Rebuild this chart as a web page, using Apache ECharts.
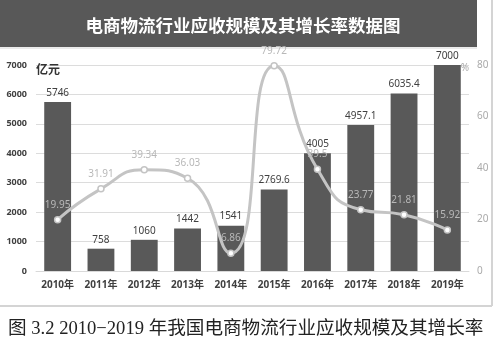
<!DOCTYPE html>
<html>
<head>
<meta charset="utf-8">
<script src="https://cdn.jsdelivr.net/npm/echarts@6/dist/echarts.min.js"></script>
<style>
  html, body { margin: 0; padding: 0; background: #ffffff; }
  #chart { width: 500px; height: 342px; }
</style>
</head>
<body>
<div id="chart"></div>
<script>
// 2010–2019 电商物流行业应收规模（亿元）及增长率（%）
var years = ['2010年', '2011年', '2012年', '2013年', '2014年', '2015年', '2016年', '2017年', '2018年', '2019年'];
var scale = [5746, 758, 1060, 1442, 1541, 2769.6, 4005, 4957.1, 6035.4, 7000];
var growth = [19.95, 31.91, 39.34, 36.03, 6.86, 79.72, 39.5, 23.77, 21.81, 15.92];

var titleText = '电商物流行业应收规模及其增长率数据图';
var captionText = '图 3.2 2010\u22122019 年我国电商物流行业应收规模及其增长率';

var sans = '"Noto Sans", "Noto Sans CJK SC", sans-serif';
var chart = echarts.init(document.getElementById('chart'));

chart.setOption({
  backgroundColor: '#ffffff',
  animation: false,
  title: [
    {
      text: titleText,
      left: 238, top: 12, textAlign: 'center',
      textStyle: { color: '#ffffff', fontSize: 17.5, fontWeight: 'bold', fontFamily: '"Noto Sans CJK SC", sans-serif' }
    },
    {
      text: captionText,
      left: 3, top: 315,
      textStyle: { color: '#222222', fontSize: 18.6, fontWeight: 'normal', fontFamily: '"Liberation Serif", "Noto Sans CJK SC", serif' }
    }
  ],
  graphic: [
    { type: 'rect', z: -1, shape: { x: 0, y: 0, width: 477, height: 47 }, style: { fill: '#585858' } },
    { type: 'line', shape: { x1: 0, y1: 48, x2: 477, y2: 48 }, style: { stroke: '#d6d6d6', lineWidth: 1 } },
    { type: 'line', shape: { x1: 492, y1: 0, x2: 492, y2: 306 }, style: { stroke: '#d4d4d4', lineWidth: 2 } },
    { type: 'line', shape: { x1: 0, y1: 306, x2: 492, y2: 306 }, style: { stroke: '#d4d4d4', lineWidth: 2 } }
  ],
  grid: { left: 36, right: 31, top: 65, bottom: 71 },
  xAxis: {
    type: 'category',
    data: years,
    axisLine: { lineStyle: { color: '#d9d9d9' } },
    axisTick: { show: false },
    axisLabel: { color: '#404040', fontSize: 10, fontWeight: 'bold', margin: 9, fontFamily: sans }
  },
  yAxis: [
    {
      type: 'value', min: 0, max: 7000, interval: 1000,
      name: '亿元', nameLocation: 'end', nameGap: -12,
      nameTextStyle: { color: '#333333', fontSize: 12, fontWeight: 'bold', align: 'left', fontFamily: sans },
      axisLine: { show: false }, axisTick: { show: false },
      axisLabel: {
        color: '#404040', fontSize: 9, fontWeight: 'bold', margin: 9, fontFamily: sans,
        formatter: function (v) { return String(v); }
      },
      splitLine: { lineStyle: { color: '#dcdcdc', width: 1 } }
    },
    {
      type: 'value', min: 0, max: 80, interval: 20,
      name: '%', nameLocation: 'end', nameGap: -8,
      nameTextStyle: { color: '#aaaaaa', fontSize: 10, align: 'right', fontFamily: sans },
      axisLine: { show: false }, axisTick: { show: false },
      axisLabel: { color: '#aaaaaa', fontSize: 10, margin: 8, fontFamily: sans },
      splitLine: { show: false }
    }
  ],
  series: [
    {
      name: '应收规模',
      type: 'bar',
      data: scale,
      barCategoryGap: '38%',
      itemStyle: { color: '#595959' },
      label: { show: true, position: 'top', distance: 4, color: '#404040', fontSize: 10, fontFamily: sans }
    },
    {
      name: '增长率',
      type: 'line',
      yAxisIndex: 1,
      data: growth,
      smooth: 0.55,
      symbol: 'circle',
      symbolSize: 6,
      z: 5,
      lineStyle: { color: '#c4c4c4', width: 3 },
      itemStyle: { color: '#ffffff', borderColor: '#c4c4c4', borderWidth: 1.5 },
      label: { show: true, position: 'top', distance: 6, color: '#b8b8b8', fontSize: 10, fontFamily: sans }
    }
  ]
});
</script>
</body>
</html>
